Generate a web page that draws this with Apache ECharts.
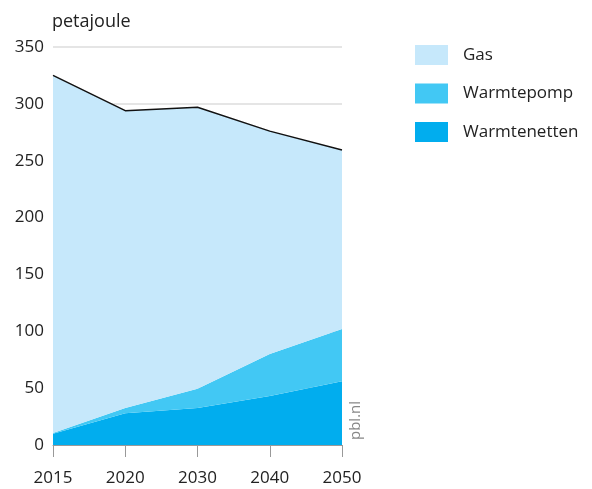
<!DOCTYPE html>
<html><head><meta charset="utf-8">
<script src="https://cdn.jsdelivr.net/npm/echarts@6/dist/echarts.min.js"></script>
<style>html,body{margin:0;padding:0;background:#fff}#c{width:592px;height:489px}</style>
</head><body><div id="c"></div>
<script>
const categories = ['2015','2020','2030','2040','2050'];
const warmtenetten = [10, 28, 32.5, 43, 56];
const warmtepomp = [0.5, 4.5, 17, 37, 46];
const gas = [314.5, 261.5, 247.5, 196, 157.5];
const yTicks = {min: 0, max: 350, interval: 50};

const font = '"Open Sans", Lato, sans-serif';
const chart = echarts.init(document.getElementById('c'));
chart.setOption({
  animation: false,
  textStyle: {fontFamily: font},
  grid: {left: 53, right: 250, top: 47, bottom: 44},
  legend: {
    orient: 'vertical', left: 410, top: 40, itemWidth: 33, itemHeight: 20, itemGap: 18.5,
    data: ['Gas','Warmtepomp','Warmtenetten'],
    textStyle: {fontSize: 17, color: '#222', fontFamily: font, padding: [0,0,0,10]},
    icon: 'rect'
  },
  graphic: [
    {type: 'text', left: 52, top: 13, style: {text: 'petajoule', fontSize: 18, fill: '#222', fontFamily: font}},
    {type: 'text', x: 348, y: 440, rotation: Math.PI/2, style: {text: 'pbl.nl', fontSize: 15, fill: '#888', fontFamily: font}}
  ],
  xAxis: {
    type: 'category', data: categories, boundaryGap: false,
    axisLine: {show: true, lineStyle: {color: '#999'}},
    axisTick: {show: true, length: 12, interval: 0, lineStyle: {color: '#999'}},
    axisLabel: {fontSize: 17, color: '#222', margin: 25, fontFamily: font, interval: 0}
  },
  yAxis: {
    type: 'value', min: yTicks.min, max: yTicks.max, interval: yTicks.interval,
    axisLine: {show: false}, axisTick: {show: false},
    splitLine: {lineStyle: {color: '#ddd', width: 1.5}},
    axisLabel: {fontSize: 17, color: '#222', margin: 9, fontFamily: font}
  },
  series: [
    {name: 'Warmtenetten', type: 'line', stack: 't', data: warmtenetten, symbol: 'none',
     lineStyle: {width: 0}, itemStyle: {color: '#01adee'}, areaStyle: {color: '#01adee', opacity: 1}},
    {name: 'Warmtepomp', type: 'line', stack: 't', data: warmtepomp, symbol: 'none',
     lineStyle: {width: 0}, itemStyle: {color: '#42c8f4'}, areaStyle: {color: '#42c8f4', opacity: 1}},
    {name: 'Gas', type: 'line', stack: 't', data: gas, symbol: 'none',
     lineStyle: {width: 1.5, color: '#111'}, itemStyle: {color: '#c6e8fb'}, areaStyle: {color: '#c6e8fb', opacity: 1}}
  ]
});
</script></body></html>
